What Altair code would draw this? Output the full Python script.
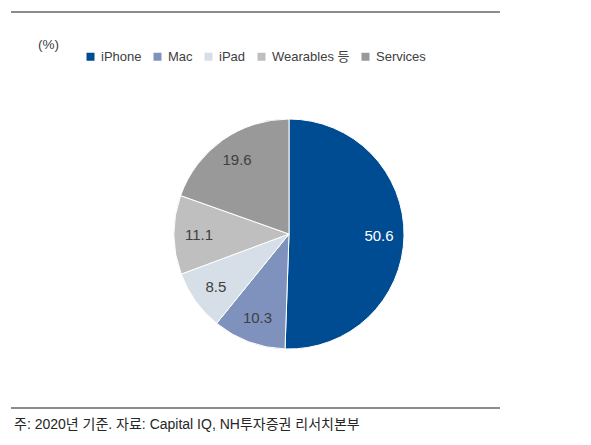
import pandas as pd
import altair as alt

segments = ["iPhone", "Mac", "iPad", "Wearables 등", "Services"]
shares = [50.6, 10.3, 8.5, 11.1, 19.6]
colors = ["#004C93", "#7F92BE", "#D6DFE8", "#BFBFBF", "#999999"]
label_colors = ["#FFFFFF", "#404040", "#404040", "#404040", "#404040"]
unit_text = ["(%)"]
footer_text = ["주: 2020년 기준. 자료: Capital IQ, NH투자증권 리서치본부"]

df = pd.DataFrame(
    {
        "segment": segments,
        "share": shares,
        "order": list(range(len(segments))),
        "label": [f"{v:.1f}" for v in shares],
        "label_color": label_colors,
    }
)
one = pd.DataFrame({"unit": unit_text, "footer": footer_text})

FONT = "Liberation Sans, Arial, Noto Sans CJK KR"
CX, CY = 281, 226

base = alt.Chart(df).encode(
    theta=alt.Theta("share:Q", stack=True),
    order=alt.Order("order:Q"),
)

pie = base.mark_arc(outerRadius=115, stroke="white", strokeWidth=1).encode(
    x=alt.value(CX),
    y=alt.value(CY),
    color=alt.Color(
        "segment:N",
        sort=segments,
        scale=alt.Scale(domain=segments, range=colors),
        legend=alt.Legend(
            title=None,
            orient="none",
            direction="horizontal",
            legendX=76,
            legendY=42,
            symbolType="square",
            symbolSize=64,
            symbolStrokeWidth=0,
            labelFont=FONT,
            labelFontSize=13,
            labelColor="#404040",
            labelOffset=4,
            columnPadding=9,
            padding=0,
        ),
    ),
)

labels = base.mark_text(radius=90, font=FONT, fontSize=15).encode(
    x=alt.value(CX),
    y=alt.value(CY),
    text="label:N",
    color=alt.Color("label_color:N", scale=None),
)

top_rule = alt.Chart(one).mark_rule(color="#8C8C8C", strokeWidth=2).encode(
    x=alt.value(3), x2=alt.value(492), y=alt.value(4)
)
bottom_rule = alt.Chart(one).mark_rule(color="#8C8C8C", strokeWidth=2).encode(
    x=alt.value(3), x2=alt.value(492), y=alt.value(400)
)

unit = alt.Chart(one).mark_text(
    font=FONT, fontSize=13.5, color="#404040", align="left", baseline="middle"
).encode(x=alt.value(30), y=alt.value(37), text="unit:N")

footer = alt.Chart(one).mark_text(
    font=FONT, fontSize=14, color="#262626", align="left", baseline="middle"
).encode(x=alt.value(6), y=alt.value(417), text="footer:N")

chart = (
    alt.layer(pie, labels, top_rule, bottom_rule, unit, footer)
    .properties(width=575, height=429, autosize="none", padding=0)
    .configure_view(stroke=None)
)

chart.save("out.html", embed_options={"renderer": "svg", "actions": False})
